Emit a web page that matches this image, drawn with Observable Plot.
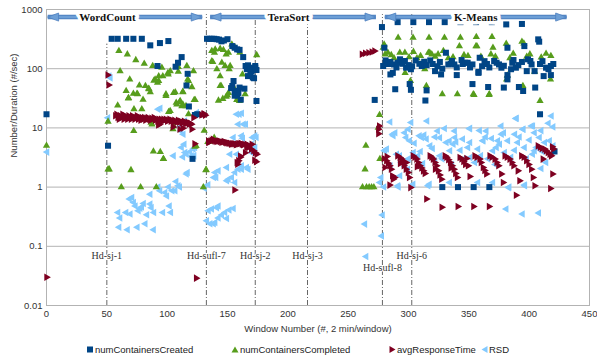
<!DOCTYPE html>
<html><head><meta charset="utf-8">
<script src="https://cdn.jsdelivr.net/npm/d3@7"></script>
<script src="https://cdn.jsdelivr.net/npm/@observablehq/plot@0.6"></script>
<style>
body{margin:0;background:#fff;font-family:"Liberation Sans",Arial,sans-serif;}
#chart{width:597px;height:359px;position:relative;overflow:hidden}
.legend{position:absolute;top:344px;left:0;width:597px;height:14px;font-size:9.5px;color:#222}
.legend .item{position:absolute;top:0;display:flex;align-items:center;gap:1px;white-space:nowrap}
.legend svg{display:block}
</style></head><body><div id="chart"></div>
<script>
// ---------- data ----------
const seriesNames = ["numContainersCreated","numContainersCompleted","avgResponseTime","RSD"];
const seriesColors = ["#004586","#579d1c","#7e0021","#83caff"];
const xTicks = [0,50,100,150,200,250,300,350,400,450];
const yTicks = [0.01,0.1,1,10,100,1000];
const xLabel = "Window Number (#, 2 min/window)";
const yLabel = "Number/Duration (#/sec)";

const phaseNames = ["WordCount","TeraSort","K-Means"];
const phaseStart = [1,135.6,280.4];
const phaseEnd = [129,273,431];
const phaseMid = [50.5,200.6,355.7];
const phaseLevel = 745;

const eventNames = ["Hd-sj-1","Hd-sufl-7","Hd-sj-2","Hd-sj-3","Hd-sufl-8","Hd-sj-6"];
const eventWindow = [50,132.5,173,216.3,278.4,302.7];
const eventTop = [260,820,700,600,820,820];
const eventLabelY = [0.07,0.07,0.07,0.07,0.0435,0.07];

const created = [
[0,17],[51,5],
[54,320],[59,320],[66,320],[72,320],[79,320],[86,248],[94,271],[101,293],
[92,111],[107,108],[109,126],[112,157],[117,82],[116,52],[118,23],[121,3],[123,16.5],[125,17],
[133,320],[135,320],[137,320],[139,320],[141,315],[143,310],[145,290],[147,300],[150,315],
[154,241],[156,226],[158,212],[160,208],[163,157],
[155,62],[154,51],[153,47],[156,42],[158,35.5],[161,30],[160,48],[164,46],[159,39],[156,35],
[165,111],[166,98],[167,114],[169,104],[170,91],[171,98],[173,104],[167,75],[169,80],[171,71],[172,69],[174,95],[173,111],[174,28.5],
[278,505],[291,612],[304,612],[317,612],[330,612],[343,612],[356,612],[369,612],[381,560],[394,570],[407.5,313],[408.3,286],
[280,226],[272,29.7],[289,45],[302,44],[301,55],[315,43],[314,29],[327,80],[340,78],[353,55],[358,88],[366,49],[379,48],[382,78],[391.5,49],[395,42],[405,48],[409,17],[412,75],[418,78],[421,4],
[328,1],[341,1],[354,1],[367,1],
[279,111],[281,138],[283,120],[285,130],[287,85],[285,80],[288,118],[290,105],
[291,126],[293,144],[295,121],[297,135],[298,104],[300,115],[302,98],
[303,110],[306,138],[309,121],[311,111],[313,131],[315,115],
[318,138],[320,120],[322,91],[324,110],[326,130],[328,100],
[331,186],[333,118],[335,121],[336,135],[338,118],[340,105],
[344,140],[345,120],[347,126],[349,126],[351,105],[353,118],
[358,85],[359,153],[361,110],[363,134],[365,120],[367,105],
[371,135],[373,126],[375,118],[377,104],[379,112],
[382,226],[382,66],[385,98],[386,126],[387,140],[389,104],[391,115],
[394,130],[396,241],[398,91],[399,144],[401,135],[402,118],[404.5,91],
[409,120],[411,134],[414,104],[416,98],[418,111],[420,120]
];

const completed = [
[0,5],[51,12.8],[51,2],[52,2],[70,1.94],[62,1],[78,1],[91,1],[130,1],
[60,199],[67,175],[74,140],[81,122],[61,91],[69,66],[66,42],[68,32],[59,24],[72,38],[75,38],[77,52],[80,30],[82,51],[72.5,20.7],[85,45],[89,63],[88,111],[93,62],[95.6,104],[96.4,75],[100.6,85],[102.6,91],[99,34.7],[102.5,19.4],[105.3,39],[107.5,26.7],[109.2,107],[109.2,89],[113,41],[110.8,28.5],[116.3,111],[117.7,62],[121.8,91],[122.4,29.6],[113,25],[72.3,8.9],[88.6,4],[96.8,3],[123,4.8],[79,20.7],[86.6,12.3],[130.7,9],
[92,58],[93,75],[90,66],[99,37],[106.7,40],[108,25],[110.3,27.5],[112.2,23.4],[115.6,23.4],[113,40],[123.2,29.6],[101.2,18.6],[117.7,17],[105.3,10.7],[87.4,11.5],[104.8,9.5],[94.3,3.94],[97,3.0],[124,4.97],[133.7,5.8],[132.1,1.94],[120.5,49],[117,66],[100.9,80],[67.8,31.5],[75.5,37],[84.6,46],[86,40],
[132.3,1.96],[134.3,5.8],[139,6.8],[137,134],[139.8,212],[143.9,217],[146.6,207],[148.9,175],[150.8,186],[141.2,98],[148,111],[152.2,111],[143.9,51],[150.8,39],[148.9,33.7],[146.1,31],[157.7,29.6],[159.9,28.5],[164.6,37],[174.2,170],[172.9,98],[137.8,130],[139.2,186],[153.6,258],[156.3,226],[160.2,186],[145.3,126],[151.4,98],[142.5,29],[150,35.5],[154.4,51],[158.2,30.3],[144.7,51],[162.4,80],[143.9,75],[137,199],
[279.8,258],[276,16.6],[274.9,10.1],[264.7,5],[264,2],[261.9,1],[265.2,1],[267.4,1],[269.4,1],[271.3,1],[276.3,3],
[291.4,333],[303.8,333],[317,333],[329.8,333],[343,333],[356.2,343],[369.2,343],[381,264],[394,286],
[356.7,241],[370,226],[395.6,267],[409,28.5],[418,164],[417.7,66],[404.5,89],[394.8,51],[354.3,36],[366.7,36],[381.9,77],
[279,226],[282.9,186],[285.7,170],[292.8,186],[297,186],[300.5,157],[310,164],[317.6,186],[324.5,175],[336.9,157],[349.3,164],[314.8,51],[328,37],[340.5,37],[301.6,62],[297.2,85],[313.5,98],
[280.6,175],[304.1,193],[316.5,186],[319.3,175],[328.9,199],[342.2,241],[355.9,241],[368.3,175],[386.8,180],[400.6,175],[381.3,66],[353.7,37],[367,37],
[288,150],[307,150],[322,160],[333,150],[346,170],[360,160],[372,160],[384,150],[398,160],[410,155],[414,180]
];

const avgResponse = [
[0,0.03],[124,0.029],[155.8,0.89],[50.7,78],[51.5,53],
[57,16],[58,17],[59,15],[60,14],[61,16],[62,15],[63,17],[64,14],[65,16],[66,15],[67,14],[68,16],[69,15],[70,14],[71,16],[72,15],[73,14],[74,15],[75,16],[76,14],[77,15],[78,13.5],[79,15],[80,14],[81,15],[82,13.5],[83,14.5],[84,15],[85,14],[86,13.5],[87,14.5],[88,14],[89,15],[90,13.5],[91,14],[92,13],[93,14],[94,13.5],[95,14],[96,13],[97,14],[98,13.5],[99,14],[100,13],[101,13.5],[102,14],[103,13],[104,13.5],[105,12.5],[106,13.5],[107,13],[108,12.5],[109,13.5],[110,12.5],[111,13],[112,12],[113,12.5],[114,13],[115,12],[116,12],[117,12.5],[118,11.5],[119,12],[120,11.5],
[92.6,11.2],[104.7,10.4],[113,9.9],[120.3,9.5],[122.7,5.4],[121.8,14.9],[128.5,16.5],[130.4,17.4],[116.1,12],[93.7,11.5],[110.3,9.5],[130.1,17],
[131.5,16.4],[134,6],[136,6],[138,6.4],[140,6],[142,6],[144,5.9],[146,5.8],[148,5.7],[150,5.6],[152,5.5],[154,5.4],[156,5.4],[158,5.3],[160,5.4],[162,5.3],[164,5.3],[166,5.3],[166,4.8],[167.3,4.65],[168,5],[169.6,4.37],[170.1,5.3],[171.5,4.1],[172.9,3.8],[174.2,3.6],[164.6,3.8],[165.8,4.65],[160.5,3.2],[159,2.8],[157.7,2.6],[158.2,2.44],[173.7,2.67],[172.3,2.85],[160.5,3.35],[134.2,5.65],[135,5.8],[137,6.2],[139,6.1],[141,5.9],[143,6],[145,5.7],[147,5.9],[149,5.6],[151,5.5],[153,5.3],[155,5.4],[157,5.2],[159,5.4],[161,5.5],[163,5.2],
[261.4,175],[264.1,182],[266.9,186],[269.6,191],[271.8,199],[275.7,10.8],[275,9.5],[275,8.0],
[279.6,3.04],[281.6,2.78],[283,2.54],[280.2,2.14],[284.3,2.29],[286.5,1.55],[288.4,1.45],[287.1,1.36],[284.3,1.08],[282,3.3],[285.5,2.0],
[290.8,3.37],[292.8,3.15],[294.1,2.97],[295.5,2.67],[296.1,2.29],[297.8,2.01],[299.5,1.76],[300.5,1.45],[301.6,0.98],[293,2.5],[298,2.6],
[303.6,3.37],[305,3.2],[306.6,2.97],[308,2.6],[309.3,2.29],[310.7,2.1],[312.1,1.88],[313.5,1.7],[314.8,0.63],[307,2.2],
[317.6,3.37],[319,3.2],[320.3,2.97],[321.7,2.6],[323.1,2.29],[324.5,1.88],[325.8,1.6],[327.2,1.36],[327.5,0.455],[322,2.0],
[330.1,3.37],[331.5,3.2],[333,2.9],[334.5,2.6],[336,2.3],[337.5,2.0],[338.8,1.7],[340.2,1.45],[340.8,0.47],[335,2.1],
[342.4,3.15],[344,3.0],[345.5,2.7],[347,2.4],[348,3.04],[349.3,2.29],[350.7,1.51],[353.8,0.47],
[354.8,3.37],[356.5,3.2],[358.9,2.97],[360,2.6],[361.7,2.14],[363,1.9],[364.5,1.66],[366.7,0.47],
[367.2,3.37],[369,3.2],[371.4,2.97],[373,2.6],[374.5,2.3],[376.9,1.66],[378.3,1.2],
[379.7,3.37],[381.5,3.2],[383.8,2.97],[385.5,2.6],[387,2.3],[390.6,1.88],[392,1.28],[389.1,0.73],
[393.5,3.37],[395.5,3.2],[397.6,2.78],[399.5,2.4],[401.7,2.01],[403.1,1.45],[404.5,1.05],
[407.2,4.97],[409,4.7],[410.5,4.5],[412.7,4.38],[414,4.1],[415.5,3.84],[417,3.6],[418.2,3.37],[411.3,2.97],[419.3,1.66],[417.5,0.95],[420,4.4],[419,4.8]
];

const rsd = [
[0.5,3.9],[53,70],[52,75],[51,14.9],
[59.3,0.373],[61,0.3],[60.2,0.209],[67.2,0.19],[66,0.373],[69.5,0.35],[68.9,0.63],[70.9,0.67],[72.3,0.55],[73.7,0.48],[75.3,0.21],[76.2,0.4],[77.7,0.44],[79,0.46],[80.5,0.53],[81.9,0.24],[83.3,0.34],[86,0.52],[87,0.45],[88.8,0.19],[89.1,0.373],[92.6,1.0],[94.1,0.87],[96.5,0.373],[98.3,0.81],[99.8,0.71],[101.2,1.0],[103.1,0.373],[102,0.48],[104.2,0.87],[106.7,0.87],[107.5,1.24],[109.3,1.05],[110.5,1.0],[113.1,3.24],[114.2,5.3],[114.9,3.84],[116.1,1.66],[116.9,1.76],[119,3.97],[120.3,3.37],[121.8,4.38],[123,4.65],[113.4,7.8],[86,0.76],
[94.3,21.5],[111.4,8.9],[105.3,3.37],[112,4.65],[116.1,3.6],[122.4,3.37],[114.7,13.1],[110.8,10.4],[124.6,18.1],[92.6,20.6],
[131,0.96],[139.8,1.76],[142.5,1.88],[138.7,1.45],[149.5,1.28],[150.8,1.36],[153.6,1.45],[156.3,1.2],[156.3,1.76],[159,2.01],[161.8,2.29],[167.3,2.01],[155,0.436],[151.5,0.41],[148,0.373],[145.3,0.337],[142.5,0.3],[139.8,0.253],[138.5,0.24],[135.7,0.24],[132.9,0.27],[134.3,0.4],[137,0.425],[141.2,0.45],[142.5,0.48],[149.5,0.296],
[157.7,17],[159.9,17],[161.8,17.7],[163.3,11.5],[165.2,11.5],[159,11.5],[155,6.9],[162.7,6.7],[161.8,7.35],[170.9,6.9],[172.9,7.35],[174,6.9],[172.9,4.65],[170,3.84],[170,5.3],[152.2,3.6],[149.5,2.14],[140.6,1.45],[161.8,2.01],[166,2.14],[157.7,3.6],[134,1.1],
[263.9,0.237],[264.9,0.067],[278.5,0.337],[277.9,0.15],[291.7,1.0],[303.9,1.12],[316.3,1.05],[383.5,1.0],[396.5,1.05],[381,0.425],[394.5,0.35],[408,0.365],[279.7,1.0],
[284.8,12.6],[302.2,12.3],[315.4,13.1],[277.4,1.45],[276.3,1.2],[280.2,4.1],[282,4.4],[287,7.8],[289,8.3],[296.9,8.3],[298.1,6.9],[301,6.05],[309.1,7.35],[311,6.9],[313,7.6],[315,6.5],[324.2,8.9],[326,6.8],[331.4,5.65],[334,6.0],[338.3,8.9],[339.5,5.8],[292.8,3.37],[294.2,2.6],[297,2.2],[299.5,2.01],[308,3.37],[310,4.0],[317.4,1.12],[291.3,1.05],[334.2,1.2],
[351,9.9],[389.6,14.6],[418.5,15.9],[419.9,10.4],[402,10.8],[287.5,7.35],[337.2,5.3],[338.6,6.9],[351,5.65],[362,6.05],[364,7.0],[375.7,5.3],[377.2,7.8],[388.2,7.8],[395.1,9.5],[413,5.65],[420,4.97],[406.1,4.65],[373,4.65],[334.4,4.1],[280.6,4.2],[290.3,3.6],[304.2,3.84],[326.1,3.37],[351,3.15],[293,1.55],
[350.7,9.7],[364.5,8.9],[376.9,10.8],[379,8.3],[389.1,14.4],[395,9.5],[403.1,10.8],[404.5,8.3],[408.6,6.9],[417,6.05],[349.3,4.65],[357.6,4.38],[361.7,6.05],[370,4.1],[374.1,6.05],[379.7,3.84],[382.4,6.05],[390.6,5.65],[396.2,4.65],[400.3,6.25],[404.5,4.1],[357.6,1.2],[370,1.2],[383,0.98],[396.2,1.08],[410,2.06],
[285,2.3],[300,3.0],[312,2.5],[320,4.5],[322,2.8],[328,3.0],[336,2.4],[343,4.2],[346,3.0],[355,2.6],[360,3.4],[366,3.0],[372,2.4],[385,3.2],[388,4.2],[398,3.0],[403,3.6],[411,4.0],[414,2.6],[300,9.5],[322,7.0],[345,6.5],[359,9.0],[369,6.6],[392,7.0],[410,9.0],[416,12.0],[305,5.5],[318,5.0],[330,9.8]
];

// ---------- symbols ----------
const S3 = Math.sqrt(3);
const triRight = {draw(c, size){const y=-Math.sqrt(size/(S3*3)); c.moveTo(-2*y,0); c.lineTo(y,-S3*y); c.lineTo(y,S3*y); c.closePath();}};
const triLeft = {draw(c, size){const y=-Math.sqrt(size/(S3*3)); c.moveTo(2*y,0); c.lineTo(-y,S3*y); c.lineTo(-y,-S3*y); c.closePath();}};
const headRight = {draw(c, size){const s=Math.sqrt(size)*0.95; c.moveTo(0,0); c.lineTo(-1.35*s,-s/2); c.lineTo(-1.35*s,s/2); c.closePath();}};
const headLeft = {draw(c, size){const s=Math.sqrt(size)*0.95; c.moveTo(0,0); c.lineTo(1.35*s,-s/2); c.lineTo(1.35*s,s/2); c.closePath();}};

const phases = phaseNames.map((n,i)=>({name:n,start:phaseStart[i],end:phaseEnd[i],mid:phaseMid[i]}));
const events = eventNames.map((n,i)=>({name:n,window:eventWindow[i],top:eventTop[i],labelY:eventLabelY[i]}));
const X = d=>d[0], Y = d=>d[1];
const arrowFill = "#6d9fd6", arrowEdge = "#4c7fbf";

const plot = Plot.plot({
  width: 597, height: 340,
  marginLeft: 46, marginRight: 8, marginTop: 9, marginBottom: 35,
  style: {fontFamily: "'Liberation Sans', Arial, sans-serif", fontSize: "9.5px", color: "#333", background: "#fff"},
  x: {domain: [0,450], ticks: xTicks},
  y: {type: "log", domain: [0.01,1000], ticks: yTicks},
  marks: [
    Plot.gridY(yTicks, {stroke: "#b3b3b3", strokeOpacity: 1}),
    Plot.frame({stroke: "#b3b3b3"}),
    Plot.axisX({ticks: xTicks, tickSize: 0, tickPadding: 5, label: null, fill: "#333"}),
    Plot.axisY({ticks: yTicks, tickSize: 0, tickPadding: 4, label: null, tickFormat: d => String(d), fill: "#333"}),
    Plot.text([xLabel], {frameAnchor: "bottom", dy: 26, fontSize: 9.5, fill: "#333"}),
    Plot.text([yLabel], {frameAnchor: "left", dx: -33, rotate: -90, fontSize: 9.5, fill: "#333"}),
    Plot.ruleX(events, {x: "window", y1: 0.01, y2: "top", stroke: "#555", strokeWidth: 0.9, strokeDasharray: "5,2,1,2"}),
    Plot.dot(rsd, {x: X, y: Y, symbol: triLeft, r: 2.8, fill: seriesColors[3]}),
    Plot.dot(completed, {x: X, y: Y, symbol: "triangle", r: 2.7, fill: seriesColors[1]}),
    Plot.dot(created, {x: X, y: Y, symbol: "square", r: 3.4, fill: seriesColors[0]}),
    Plot.dot(avgResponse, {x: X, y: Y, symbol: triRight, r: 2.8, fill: seriesColors[2]}),
    Plot.text(events, {x: "window", y: "labelY", text: "name", fontFamily: "'Liberation Serif', serif", fontSize: 10, fill: "#333", stroke: "white", strokeWidth: 2}),
    Plot.link(phases, {x1: "start", x2: "end", y1: phaseLevel, y2: phaseLevel, stroke: arrowEdge, strokeWidth: 4.5}),
    Plot.link(phases, {x1: "start", x2: "end", y1: phaseLevel, y2: phaseLevel, stroke: arrowFill, strokeWidth: 2.5}),
    Plot.dot(phases, {x: "end", y: phaseLevel, symbol: headRight, r: 4.8, fill: arrowFill, stroke: arrowEdge, strokeWidth: 0.8}),
    Plot.dot(phases, {x: "start", y: phaseLevel, symbol: headLeft, r: 4.8, fill: arrowFill, stroke: arrowEdge, strokeWidth: 0.8}),
    Plot.text(phases, {x: "mid", y: phaseLevel, text: "name", fontFamily: "'Liberation Serif', serif", fontWeight: "bold", fontSize: 11, fill: "#111", stroke: "white", strokeWidth: 7})
  ]
});
const chart = document.getElementById("chart");
chart.appendChild(plot);

// ---------- legend ----------
const legendLeft = [86, 231, 388, 480];
const symPaths = [
  '<rect x="1" y="1.5" width="6" height="6"/>',
  '<path d="M4,1.5 L7.5,7.5 L0.5,7.5 Z"/>',
  '<path d="M1.5,1 L7.5,4.5 L1.5,8 Z"/>',
  '<path d="M7.5,1 L1.5,4.5 L7.5,8 Z"/>'
];
const legend = document.createElement("div");
legend.className = "legend";
seriesNames.forEach((name, i) => {
  const item = document.createElement("div");
  item.className = "item";
  item.style.left = legendLeft[i] + "px";
  item.innerHTML = `<svg width="8" height="9" fill="${seriesColors[i]}">${symPaths[i]}</svg><span>${name}</span>`;
  legend.appendChild(item);
});
chart.appendChild(legend);
</script></body></html>
